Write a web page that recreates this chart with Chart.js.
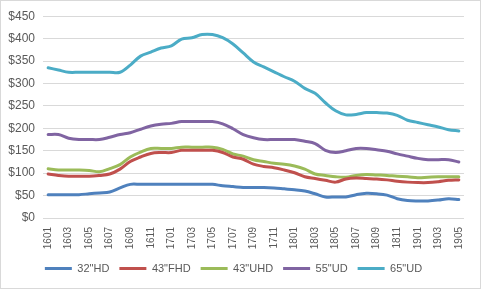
<!DOCTYPE html>
<html>
<head>
<meta charset="utf-8">
<script src="https://cdn.jsdelivr.net/npm/chart.js@4/dist/chart.umd.min.js"></script>
<style>
  html, body { margin: 0; padding: 0; background: #fff; }
  #wrap { width: 479px; height: 287px; border: 1px solid #d9d9d9; }
</style>
</head>
<body>
<div id="wrap"><canvas id="chart" width="479" height="287"></canvas></div>
<script>
// months as YYMM, 1601 .. 1905
const categories = [
  "1601","1602","1603","1604","1605","1606","1607","1608","1609","1610","1611","1612",
  "1701","1702","1703","1704","1705","1706","1707","1708","1709","1710","1711","1712",
  "1801","1802","1803","1804","1805","1806","1807","1808","1809","1810","1811","1812",
  "1901","1902","1903","1904","1905"
];

const hd32 = [52,52,52,52,54,56,58,67,75,75,75,75,75,75,75,75,75,72,70,68,68,68,67,65,
  63,60,54,47,47,47,52,55,54,51,43,39,38,38,40,43,41];
const fhd43 = [98,95,93,93,93,95,98,109,126,136,144,146,146,151,151,151,151,146,136,131,120,115,112,107,
  101,92,88,84,80,87,89,88,87,85,82,80,79,79,81,84,85];
const uhd43 = [110,107,107,107,106,103,110,119,136,147,155,155,155,158,158,158,158,153,143,138,130,126,122,120,
  116,109,98,95,92,91,95,97,96,95,93,92,90,91,92,92,92];
const ud55 = [186,186,178,175,175,175,180,186,190,198,205,209,211,215,215,215,215,210,199,186,179,175,175,175,
  175,171,166,151,146,150,155,155,152,149,143,138,133,130,130,130,125];
const ud65 = [335,330,325,325,325,325,325,325,341,361,370,379,384,399,402,409,409,402,388,368,348,337,326,315,
  305,289,278,257,239,230,231,235,235,234,229,218,213,208,203,197,194];

const yTicks = [0, 50, 100, 150, 200, 250, 300, 350, 400, 450];

const font = '"Liberation Sans", Arial, sans-serif';
const grey = "#595959";

function series(label, data, color) {
  return {
    label: label,
    data: data,
    borderColor: color,
    backgroundColor: color,
    borderWidth: 3,
    borderCapStyle: "round",
    pointRadius: 0,
    pointHoverRadius: 0,
    tension: 0.35,
    fill: false
  };
}

new Chart(document.getElementById("chart"), {
  type: "line",
  data: {
    labels: categories,
    datasets: [
      series('32"HD', hd32, "#4F81BD"),
      series('43"FHD', fhd43, "#C0504D"),
      series('43"UHD', uhd43, "#9BBB59"),
      series('55"UD', ud55, "#8064A2"),
      series('65"UD', ud65, "#4BACC6")
    ]
  },
  options: {
    responsive: false,
    animation: false,
    layout: { padding: { left: 0, right: 14, top: 13, bottom: 4 } },
    plugins: {
      tooltip: { enabled: false },
      legend: {
        position: "bottom",
        labels: {
          usePointStyle: true,
          pointStyle: "line",
          pointStyleWidth: 27,
          padding: 10,
          color: grey,
          font: { family: font, size: 11 }
        }
      }
    },
    scales: {
      x: {
        offset: true,
        grid: { display: false, drawTicks: false },
        border: { display: false },
        afterFit: (s) => { s.height = 35; },
        ticks: {
          autoSkip: false,
          maxRotation: 90,
          minRotation: 90,
          padding: 9,
          color: grey,
          font: { family: font, size: 10 },
          callback: (v, i) => (i % 2 === 0 ? categories[i] : "")
        }
      },
      y: {
        min: yTicks[0],
        max: yTicks[yTicks.length - 1],
        afterFit: (s) => { s.width = 42; },
        afterBuildTicks: (s) => { s.ticks = yTicks.map((v) => ({ value: v })); },
        grid: { color: "#d9d9d9", drawTicks: false },
        border: { display: false },
        ticks: {
          padding: 8,
          color: grey,
          font: { family: font, size: 12 },
          callback: (v) => "$" + v
        }
      }
    }
  }
});
</script>
</body>
</html>
